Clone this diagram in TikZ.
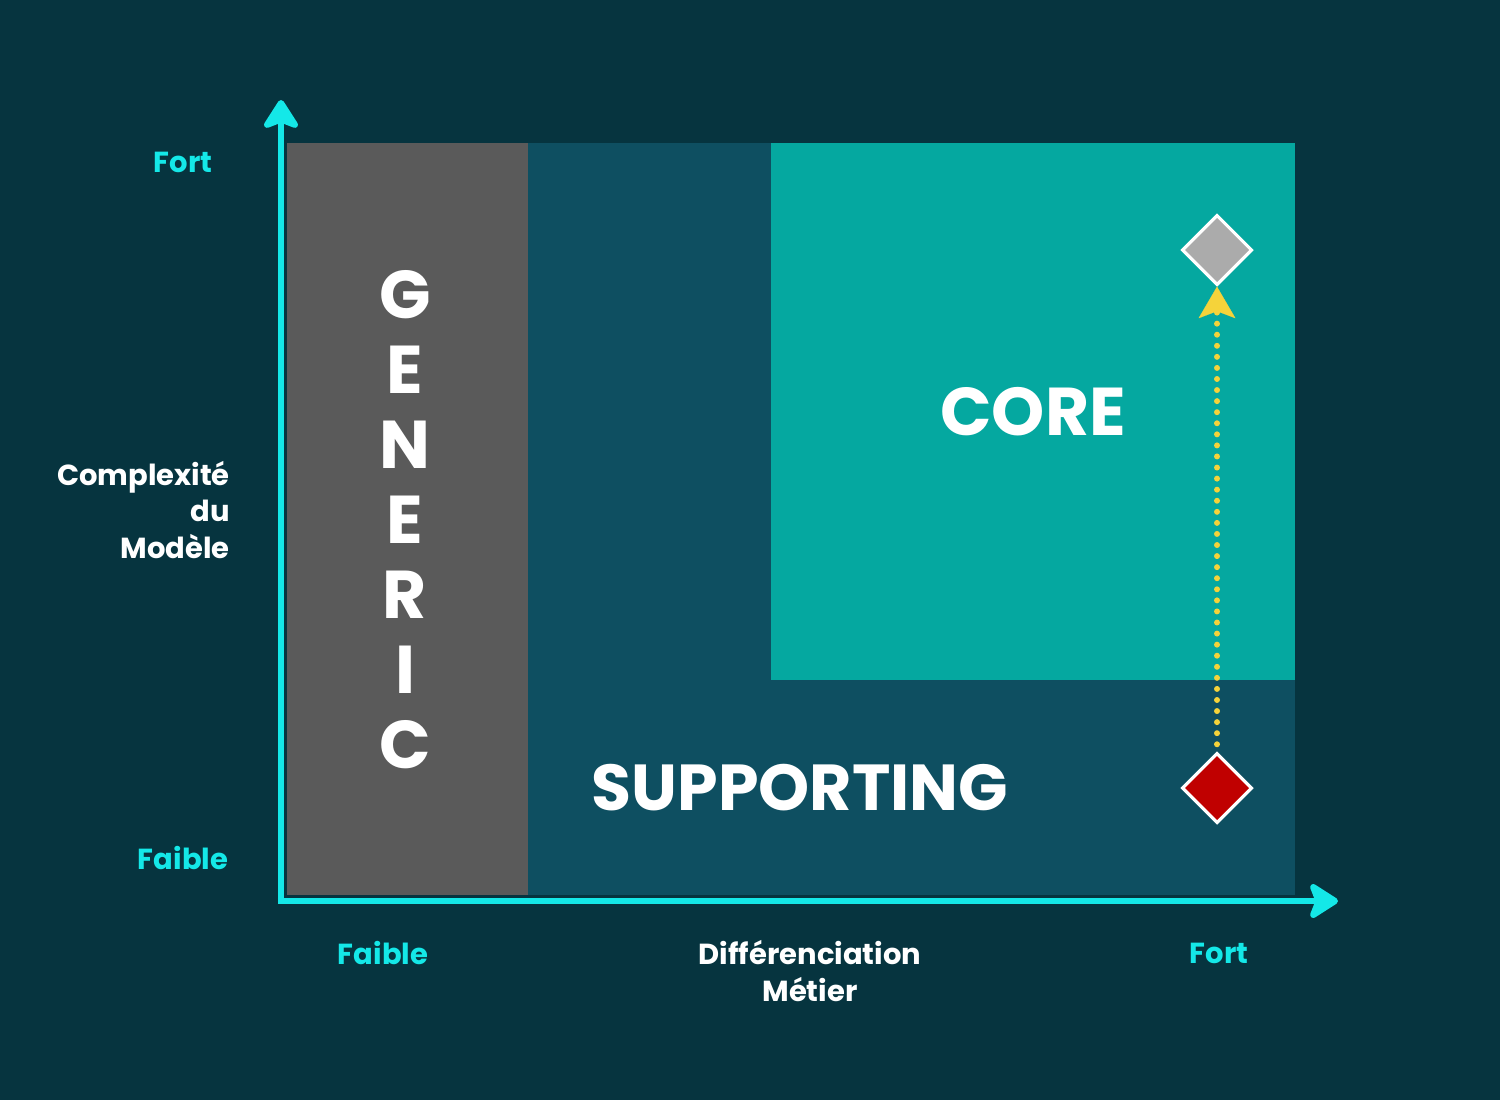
\documentclass[tikz,border=0pt]{standalone}
\usepackage{fontspec}
\setmainfont{Poppins}[UprightFont=* Bold]
\usetikzlibrary{arrows.meta,shapes.geometric}
\definecolor{bgdark}{HTML}{06343F}
\definecolor{genericgrey}{HTML}{5A5A5A}
\definecolor{supportblue}{HTML}{0E4F61}
\definecolor{coreteal}{HTML}{05A8A0}
\definecolor{axiscyan}{HTML}{14E8E8}
\definecolor{dotyellow}{HTML}{F5D33A}
\definecolor{diamondred}{HTML}{C00000}
\definecolor{diamondgrey}{HTML}{ABABAB}
\begin{document}
\begin{tikzpicture}[x=0.02cm,y=-0.02cm,
  axis/.style={draw=axiscyan,line width=3.6pt,
    -{Stealth[length=19pt,width=24pt,inset=4.5pt,round]}},
  axislabel/.style={text=axiscyan,font=\fontsize{16.5}{19}\selectfont},
  titlelabel/.style={text=white,font=\fontsize{16.5}{21}\selectfont},
  zonelabel/.style={text=white,font=\fontsize{38.5}{42}\selectfont},
  marker/.style={diamond,draw=white,line width=1.8pt,inner sep=0pt,
    minimum width=40pt,minimum height=40pt}]
  % background
  \fill[bgdark] (0,0) rectangle (1500,1100);
  \useasboundingbox (0,0) rectangle (1500,1100);
  % zones
  \fill[supportblue] (528,143) rectangle (1295,895);
  \fill[genericgrey] (287,143) rectangle (528,895);
  \fill[coreteal] (771,143) rectangle (1295,680);
  % axes
  \coordinate (origin) at (281,901);
  \coordinate (ytop) at (281,100);
  \coordinate (xend) at (1338,901);
  \draw[axis] (origin) -- (ytop);
  \draw[axis] ([xshift=-1.8pt]origin) -- (xend);
  % axis labels
  \node[axislabel] (yhigh) at (183,162) {Fort};
  \node[axislabel] (ylow) at (183,858) {Faible};
  \node[axislabel] (xlow) at (383,953) {Faible};
  \node[axislabel] (xhigh) at (1219,953) {Fort};
  \node[titlelabel,anchor=east,align=right] (ytitle) at (236,510)
    {Complexité\\du\\Modèle};
  \node[titlelabel,align=center] (xtitle) at (810,971)
    {Différenciation\\Métier};
  % zone names
  \foreach \l [count=\i] in {G,E,N,E,R,I,C}
    \node[zonelabel] (generic\i) at (405,220+75*\i) {\l};
  \node[zonelabel] (core) at (1033,412) {CORE};
  \node[font=\fontsize{37}{40}\selectfont,text=white] (supporting) at (800,788) {SUPPORTING};
  % markers
  \node[marker,fill=diamondgrey] (target) at (1217,250) {};
  \node[marker,fill=diamondred] (current) at (1217,788) {};
  \draw[dotyellow,line width=3.4pt,line cap=round,dash pattern=on 0pt off 6.3pt,
    shorten <=4pt] (current.north) -- ([yshift=-14pt]target.south);
  \draw[dotyellow,line width=0.1pt,
    -{Stealth[length=18pt,width=21pt,inset=4pt,round,fill=dotyellow]}]
    ([yshift=-16pt]target.south) -- (target.south);
\end{tikzpicture}
\end{document}
